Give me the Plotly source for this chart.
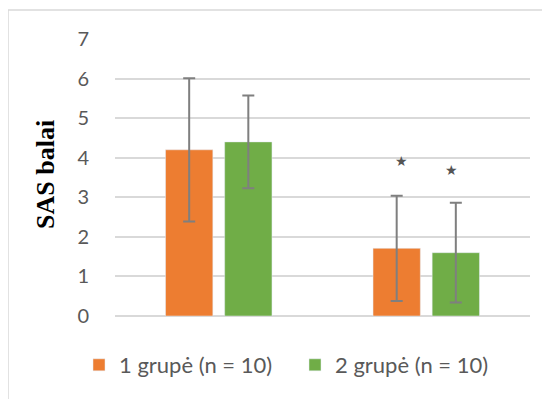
import plotly.graph_objects as go

categories = ["A", "B"]
group1_name = "1 grupė (n = 10)"
group2_name = "2 grupė (n = 10)"
group1_values = [4.2, 1.71]
group1_err = [1.81, 1.33]
group2_values = [4.4, 1.6]
group2_err = [1.17, 1.26]
star_y_group1 = [None, 3.94]
star_y_group2 = [None, 3.69]
y_ticks = [0, 1, 2, 3, 4, 5, 6, 7]

ORANGE = "#ED7D31"
GREEN = "#70AD47"
GRID = "#D9D9D9"
TEXT = "#595959"
ERR = "#7F7F7F"

fig = go.Figure()
fig.add_trace(go.Bar(
    x=categories, y=group1_values, name=group1_name, marker_color=ORANGE,
    error_y=dict(type="data", array=group1_err, color=ERR, thickness=2, width=6),
))
fig.add_trace(go.Bar(
    x=categories, y=group2_values, name=group2_name, marker_color=GREEN,
    error_y=dict(type="data", array=group2_err, color=ERR, thickness=2, width=6),
))

for ys, shift in ((star_y_group1, -25), (star_y_group2, 25)):
    for c, yv in zip(categories, ys):
        if yv is not None:
            fig.add_annotation(x=c, y=yv, xshift=shift, text="★", showarrow=False,
                               font=dict(size=14, color="#555555"))

# page offset (body margin) of 8 px
OFF = 8
W, H = 550, 399
L, T = 115 - OFF, 39 - OFF
pw, ph = 415, 277
R = W - L - pw
B = H - T - ph
fx = lambda px: (px - OFF - L) / pw
fy = lambda py: (T + ph - (py - OFF)) / ph

fig.add_annotation(xref="paper", yref="paper", x=fx(45), y=fy(175), xanchor="center", yanchor="middle",
                   text="<b>SAS balai</b>", textangle=-90, showarrow=False,
                   font=dict(family="Liberation Serif", size=26, color="black"))

fig.add_shape(type="line", xref="paper", yref="paper", x0=fx(8), x1=fx(8), y0=fy(10), y1=fy(410),
              line=dict(color=GRID, width=1.5))
fig.add_shape(type="line", xref="paper", yref="paper", x0=fx(8), x1=fx(570), y0=fy(10), y1=fy(10),
              line=dict(color=GRID, width=1.5))

fig.update_layout(
    width=W, height=H, margin=dict(l=L, r=R, t=T, b=B),
    paper_bgcolor="white", plot_bgcolor="white",
    barmode="group", bargap=0.43, bargroupgap=0.2,
    font=dict(family="Lato", color=TEXT),
    showlegend=True,
    legend=dict(orientation="h", x=fx(79), xanchor="left", y=fy(365), yanchor="middle",
                font=dict(size=22, color=TEXT), traceorder="normal",
                entrywidth=171, entrywidthmode="pixels"),
)
fig.update_xaxes(showticklabels=False, showline=False, showgrid=False, zeroline=False)
fig.update_yaxes(range=[0, 7], tickvals=y_ticks, showgrid=True, gridcolor=GRID, gridwidth=1.5,
                 zeroline=True, zerolinecolor=GRID, zerolinewidth=1.5,
                 tickfont=dict(size=20, color=TEXT), ticklabelstandoff=25)

fig.write_html("out.html")
